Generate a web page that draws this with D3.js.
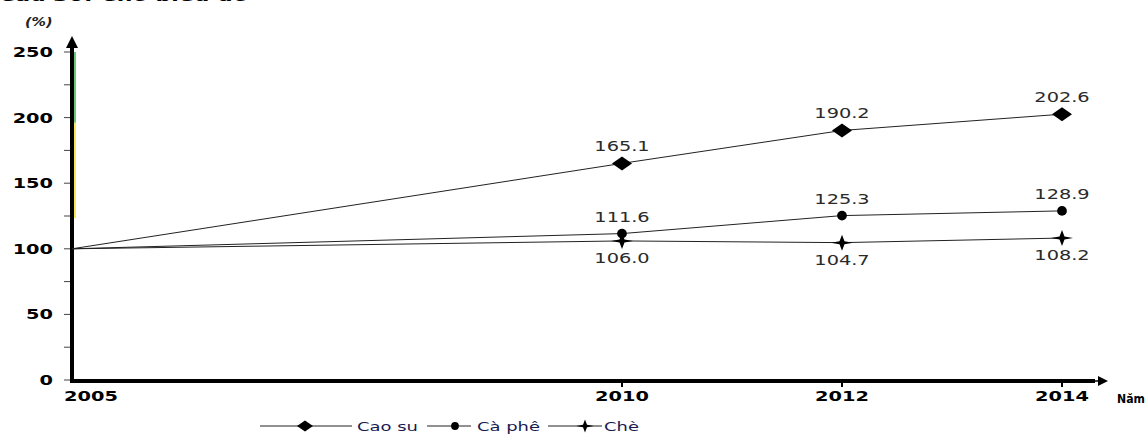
<!DOCTYPE html>
<html>
<head>
<meta charset="utf-8">
<script src="https://cdn.jsdelivr.net/npm/d3@7"></script>
<style>
	body { margin: 0; background: #fff; }
	svg { display: block; }
</style>
</head>
<body>
<div id="main"></div>
<script>
// data
let years = [2005, 2010, 2012, 2014];
let cao_su = [100, 165.1, 190.2, 202.6];
let ca_phe = [100, 111.6, 125.3, 128.9];
let che = [100, 106.0, 104.7, 108.2];
let y_ticks = [0, 50, 100, 150, 200, 250];
let y_minor = [25, 75, 125, 175, 225];
let series_names = ['Cao su', 'Cà phê', 'Chè'];

let width = 1145, height = 438;
let stretch = 1.38; // the picture is stretched sideways, text too

let svg = d3.select('#main').append('svg')
	.attr('width', width).attr('height', height);

let x = d3.scaleLinear().domain([2005, 2014]).range([72, 1062]);
let y = d3.scaleLinear().domain([0, 250]).range([380, 52]);

function wide_text(parent, px, py, txt, anchor, size, weight, color, sx) {
	if (sx === undefined) sx = stretch;
	let g = parent.append('g').attr('transform', 'translate(' + px + ',' + py + ') scale(' + sx + ',1)');
	g.append('text')
		.attr('text-anchor', anchor)
		.style('font-family', 'DejaVu Sans, Verdana, sans-serif')
		.style('font-size', size + 'px')
		.style('font-weight', weight)
		.style('fill', color)
		.text(txt);
	return g;
}

// title, cut off at the top like in the picture
wide_text(svg, 0, 1, 'Câu 30: Cho biểu đồ', 'start', 16, 'bold', '#000')
	.select('text').style('font-style', 'italic');
wide_text(svg, 25, 26, '(%)', 'start', 12, 'bold', '#222', 1.2)
	.select('text').style('font-style', 'italic');

// colour strips along the y axis
svg.append('line').attr('x1', 75).attr('x2', 75).attr('y1', y(250)).attr('y2', y(196))
	.attr('stroke', '#3cb44b').attr('stroke-width', 1.5);
svg.append('line').attr('x1', 75).attr('x2', 75).attr('y1', y(196)).attr('y2', y(123.5))
	.attr('stroke', '#f0e020').attr('stroke-width', 1.5);

// y ticks
svg.selectAll('.ytick').data(y_ticks.concat(y_minor)).enter()
	.append('line').attr('class', 'ytick')
	.attr('x1', 64).attr('x2', 72)
	.attr('y1', function (d) { return y(d); })
	.attr('y2', function (d) { return y(d); })
	.attr('stroke', '#444').attr('stroke-width', 1);

y_ticks.forEach(function (d) {
	wide_text(svg, 53, y(d) + 5, d, 'end', 14, 'bold', '#000');
});

// axes
svg.append('line').attr('x1', 72).attr('x2', 72).attr('y1', 382).attr('y2', 44)
	.attr('stroke', '#000').attr('stroke-width', 4);
svg.append('path').attr('d', 'M66,48 L72,36 L78,48 Z').attr('fill', '#000');
svg.append('line').attr('x1', 70).attr('x2', 1095).attr('y1', 381).attr('y2', 381)
	.attr('stroke', '#000').attr('stroke-width', 4);
svg.append('line').attr('x1', 1090).attr('x2', 1100).attr('y1', 381).attr('y2', 381)
	.attr('stroke', '#000').attr('stroke-width', 1.5);
svg.append('path').attr('d', 'M1098,376 L1108,381 L1098,386 Z').attr('fill', '#000');

svg.selectAll('.xtick').data(years.slice(1)).enter()
	.append('line').attr('class', 'xtick')
	.attr('x1', function (d) { return x(d); })
	.attr('x2', function (d) { return x(d); })
	.attr('y1', 381).attr('y2', 387)
	.attr('stroke', '#000').attr('stroke-width', 2);

years.forEach(function (d, i) {
	let px = i == 0 ? 91 : x(d);
	wide_text(svg, px, 401, d, 'middle', 14, 'bold', '#000');
});
wide_text(svg, 1117, 403, 'Năm', 'start', 13, 'bold', '#000', 0.84);

// marker shapes
let marker_paths = [
	'M-10,0 L0,-7 L10,0 L0,7 Z',
	d3.symbol().type(d3.symbolCircle).size(75)(),
	'M-11,0 L-2.5,-1.5 L0,-8 L2.5,-1.5 L11,0 L2.5,1.5 L0,8 L-2.5,1.5 Z'
];

let all_series = [cao_su, ca_phe, che];
let line = d3.line()
	.x(function (d, i) { return x(years[i]); })
	.y(function (d) { return y(d); });

all_series.forEach(function (vals, s) {
	svg.append('path').datum(vals)
		.attr('d', line)
		.attr('fill', 'none')
		.attr('stroke', '#222').attr('stroke-width', 1);
	svg.selectAll('.mk' + s).data(vals.slice(1)).enter()
		.append('path').attr('class', 'mk' + s)
		.attr('transform', function (d, i) { return 'translate(' + x(years[i + 1]) + ',' + y(d) + ')'; })
		.attr('d', marker_paths[s])
		.attr('fill', '#000');
	vals.slice(1).forEach(function (d, i) {
		let dy = s == 2 ? 22 : -12;
		wide_text(svg, x(years[i + 1]), y(d) + dy, d.toFixed(1), 'middle', 14, 'normal', '#2a2a2a');
	});
});

// legend
let legend_items = [
	{x1: 260, x2: 352, mx: 305, tx: 357},
	{x1: 427, x2: 471, mx: 455, tx: 477},
	{x1: 548, x2: 602, mx: 585, tx: 604}
];
legend_items.forEach(function (l, s) {
	let ly = 426;
	svg.append('line').attr('x1', l.x1).attr('x2', l.x2).attr('y1', ly).attr('y2', ly)
		.attr('stroke', '#222').attr('stroke-width', 1);
	svg.append('path').attr('d', marker_paths[s])
		.attr('transform', 'translate(' + l.mx + ',' + ly + ') scale(0.8)')
		.attr('fill', '#000');
	wide_text(svg, l.tx, ly + 5, series_names[s], 'start', 13, 'normal', '#1a1a50');
});
</script>
</body>
</html>
